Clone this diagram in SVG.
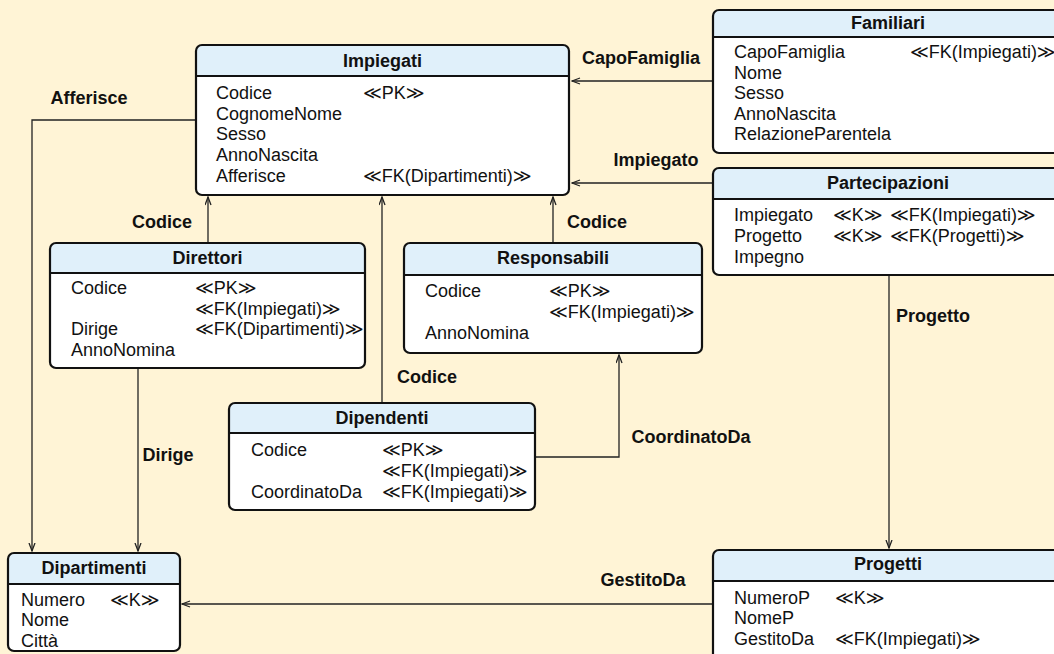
<svg xmlns="http://www.w3.org/2000/svg" width="1054" height="654" viewBox="0 0 1054 654">
<style>
.bg{fill:#fff4d6}
.body{fill:#ffffff;stroke:none}
.hdr{fill:#e0f0fa;stroke:none}
.frame{fill:none;stroke:#111;stroke-width:2.2}
.sep{stroke:#111;stroke-width:2.2}
.title{font-family:"Liberation Sans","DejaVu Sans",sans-serif;font-size:18px;font-weight:bold;fill:#111;text-anchor:middle}
.attr{font-family:"Liberation Sans","DejaVu Sans",sans-serif;font-size:18px;fill:#111}
.lbl{font-family:"Liberation Sans","DejaVu Sans",sans-serif;font-size:18px;font-weight:bold;fill:#111;text-anchor:middle}
.conn{fill:none;stroke:#222;stroke-width:1.3;marker-end:url(#arr)}
</style>
<defs>
<marker id="arr" markerUnits="userSpaceOnUse" markerWidth="10" markerHeight="8" refX="8.5" refY="3.5" orient="auto">
<path d="M0.5,0.5 L8.5,3.5 L0.5,6.5" fill="none" stroke="#222" stroke-width="1.3"/>
</marker>
</defs>
<rect class="bg" x="0" y="0" width="1054" height="654"/>

<g id="connectors">
<path class="conn" d="M196,120 H32 V551"/>
<path class="conn" d="M208,243 V197"/>
<path class="conn" d="M382,403 V197"/>
<path class="conn" d="M553,243 V197"/>
<path class="conn" d="M713,81 H572"/>
<path class="conn" d="M713,183 H572"/>
<path class="conn" d="M889,275 V548"/>
<path class="conn" d="M138,368 V551"/>
<path class="conn" d="M535,457 H619 V355"/>
<path class="conn" d="M713,604 H182"/>
<text class="lbl" x="89" y="104">Afferisce</text>
<text class="lbl" x="162" y="228">Codice</text>
<text class="lbl" x="427" y="383">Codice</text>
<text class="lbl" x="597" y="228">Codice</text>
<text class="lbl" x="641" y="64">CapoFamiglia</text>
<text class="lbl" x="656" y="166">Impiegato</text>
<text class="lbl" x="933" y="322">Progetto</text>
<text class="lbl" x="168" y="461">Dirige</text>
<text class="lbl" x="691" y="443">CoordinatoDa</text>
<text class="lbl" x="643" y="586">GestitoDa</text>
</g>

<g id="Impiegati">
<rect class="body" x="196" y="45" width="373" height="150" rx="6"/>
<path class="hdr" d="M196,76 V51 Q196,45 202,45 H563 Q569,45 569,51 V76 Z"/>
<rect class="frame" x="196" y="45" width="373" height="150" rx="6"/>
<line class="sep" x1="196" y1="76" x2="569" y2="76"/>
<text class="title" x="382.5" y="67">Impiegati</text>
<text class="attr" x="216" y="99">Codice</text>
<text class="attr" x="363" y="99">≪PK≫</text>
<text class="attr" x="216" y="120">CognomeNome</text>
<text class="attr" x="216" y="140">Sesso</text>
<text class="attr" x="216" y="161">AnnoNascita</text>
<text class="attr" x="216" y="182">Afferisce</text>
<text class="attr" x="363" y="182">≪FK(Dipartimenti)≫</text>
</g>

<g id="Familiari">
<rect class="body" x="713" y="10" width="350" height="143" rx="6"/>
<path class="hdr" d="M713,37 V16 Q713,10 719,10 H1057 Q1063,10 1063,16 V37 Z"/>
<rect class="frame" x="713" y="10" width="350" height="143" rx="6"/>
<line class="sep" x1="713" y1="37" x2="1063" y2="37"/>
<text class="title" x="888" y="29">Familiari</text>
<text class="attr" x="734" y="58">CapoFamiglia</text>
<text class="attr" x="910" y="58">≪FK(Impiegati)≫</text>
<text class="attr" x="734" y="79">Nome</text>
<text class="attr" x="734" y="99">Sesso</text>
<text class="attr" x="734" y="120">AnnoNascita</text>
<text class="attr" x="734" y="140">RelazioneParentela</text>
</g>

<g id="Partecipazioni">
<rect class="body" x="713" y="168" width="350" height="107" rx="6"/>
<path class="hdr" d="M713,199 V174 Q713,168 719,168 H1057 Q1063,168 1063,174 V199 Z"/>
<rect class="frame" x="713" y="168" width="350" height="107" rx="6"/>
<line class="sep" x1="713" y1="199" x2="1063" y2="199"/>
<text class="title" x="888" y="189">Partecipazioni</text>
<text class="attr" x="734" y="221">Impiegato</text>
<text class="attr" x="833" y="221">≪K≫</text>
<text class="attr" x="890" y="221">≪FK(Impiegati)≫</text>
<text class="attr" x="734" y="242">Progetto</text>
<text class="attr" x="833" y="242">≪K≫</text>
<text class="attr" x="890" y="242">≪FK(Progetti)≫</text>
<text class="attr" x="734" y="263">Impegno</text>
</g>

<g id="Direttori">
<rect class="body" x="50" y="243" width="315" height="125" rx="6"/>
<path class="hdr" d="M50,273 V249 Q50,243 56,243 H359 Q365,243 365,249 V273 Z"/>
<rect class="frame" x="50" y="243" width="315" height="125" rx="6"/>
<line class="sep" x1="50" y1="273" x2="365" y2="273"/>
<text class="title" x="207.5" y="264">Direttori</text>
<text class="attr" x="71" y="294">Codice</text>
<text class="attr" x="195" y="294">≪PK≫</text>
<text class="attr" x="195" y="315">≪FK(Impiegati)≫</text>
<text class="attr" x="71" y="335">Dirige</text>
<text class="attr" x="195" y="335">≪FK(Dipartimenti)≫</text>
<text class="attr" x="71" y="356">AnnoNomina</text>
</g>

<g id="Responsabili">
<rect class="body" x="404" y="243" width="298" height="110" rx="6"/>
<path class="hdr" d="M404,275 V249 Q404,243 410,243 H696 Q702,243 702,249 V275 Z"/>
<rect class="frame" x="404" y="243" width="298" height="110" rx="6"/>
<line class="sep" x1="404" y1="275" x2="702" y2="275"/>
<text class="title" x="553" y="264">Responsabili</text>
<text class="attr" x="425" y="297">Codice</text>
<text class="attr" x="549" y="297">≪PK≫</text>
<text class="attr" x="549" y="318">≪FK(Impiegati)≫</text>
<text class="attr" x="425" y="339">AnnoNomina</text>
</g>

<g id="Dipendenti">
<rect class="body" x="229" y="403" width="306" height="107" rx="6"/>
<path class="hdr" d="M229,433 V409 Q229,403 235,403 H529 Q535,403 535,409 V433 Z"/>
<rect class="frame" x="229" y="403" width="306" height="107" rx="6"/>
<line class="sep" x1="229" y1="433" x2="535" y2="433"/>
<text class="title" x="382" y="424">Dipendenti</text>
<text class="attr" x="251" y="456">Codice</text>
<text class="attr" x="382" y="456">≪PK≫</text>
<text class="attr" x="382" y="477">≪FK(Impiegati)≫</text>
<text class="attr" x="251" y="498">CoordinatoDa</text>
<text class="attr" x="382" y="498">≪FK(Impiegati)≫</text>
</g>

<g id="Dipartimenti">
<rect class="body" x="8" y="553" width="172" height="98" rx="6"/>
<path class="hdr" d="M8,584 V559 Q8,553 14,553 H174 Q180,553 180,559 V584 Z"/>
<rect class="frame" x="8" y="553" width="172" height="98" rx="6"/>
<line class="sep" x1="8" y1="584" x2="180" y2="584"/>
<text class="title" x="94" y="574">Dipartimenti</text>
<text class="attr" x="21" y="606">Numero</text>
<text class="attr" x="110" y="606">≪K≫</text>
<text class="attr" x="21" y="626">Nome</text>
<text class="attr" x="21" y="647">Città</text>
</g>

<g id="Progetti">
<rect class="body" x="713" y="550" width="350" height="112" rx="6"/>
<path class="hdr" d="M713,581 V556 Q713,550 719,550 H1057 Q1063,550 1063,556 V581 Z"/>
<rect class="frame" x="713" y="550" width="350" height="112" rx="6"/>
<line class="sep" x1="713" y1="581" x2="1063" y2="581"/>
<text class="title" x="888" y="570">Progetti</text>
<text class="attr" x="734" y="604">NumeroP</text>
<text class="attr" x="835" y="604">≪K≫</text>
<text class="attr" x="734" y="624">NomeP</text>
<text class="attr" x="734" y="645">GestitoDa</text>
<text class="attr" x="835" y="645">≪FK(Impiegati)≫</text>
</g>
</svg>
